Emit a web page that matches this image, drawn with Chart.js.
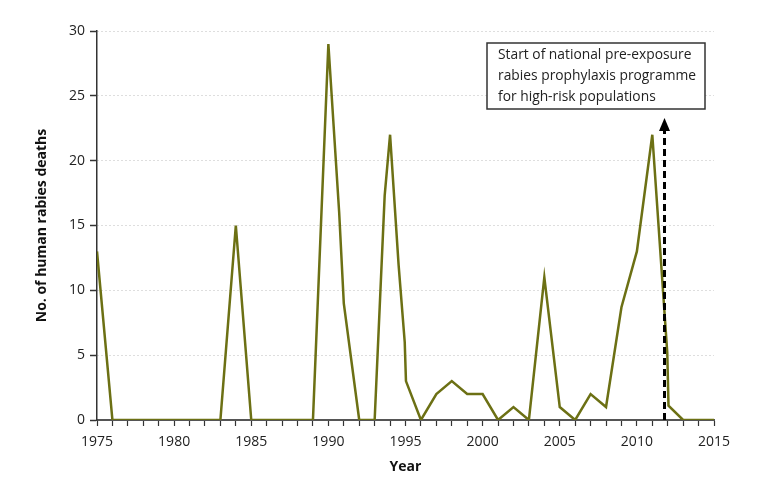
<!DOCTYPE html>
<html>
<head>
<meta charset="utf-8">
<script src="https://cdn.jsdelivr.net/npm/chart.js@4.4.0/dist/chart.umd.min.js"></script>
<style>
  html, body { margin: 0; padding: 0; background: #fff; }
  #wrap { width: 771px; height: 499px; position: relative; }
</style>
</head>
<body>
<div id="wrap"><canvas id="chart"></canvas></div>
<script>
// Dados (anos, mortes humanas por raiva)
const years = [1975, 1976, 1977, 1978, 1979, 1980, 1981, 1982, 1983, 1984, 1985, 1986, 1987, 1988, 1989,
  1990, 1990.7, 1991, 1992, 1993, 1993.65, 1994, 1994.55, 1994.95, 1995.03, 1996, 1997, 1998, 1999, 2000,
  2001, 2002, 2003, 2004, 2005, 2006, 2007, 2008, 2009, 2010, 2011, 2011.97, 2012.05, 2013, 2014, 2015];
const deaths = [13, 0, 0, 0, 0, 0, 0, 0, 0, 15, 0, 0, 0, 0, 0,
  29, 16, 9, 0, 0, 17.3, 22, 12, 6, 3, 0, 2, 3, 2, 2,
  0, 1, 0, 11, 1, 0, 2, 1, 8.7, 13, 22, 5.2, 1.1, 0, 0, 0];
const yTicks = [0, 5, 10, 15, 20, 25, 30];
const xLabelYears = [1975, 1980, 1985, 1990, 1995, 2000, 2005, 2010, 2015];
const noteLines = ['Start of national pre-exposure', 'rabies prophylaxis programme', 'for high-risk populations'];
const arrowYear = 2011.75;
const arrowTop = 23.3;

const lineColor = '#6c7014';
const axisColor = '#333333';
const fontFamily = "'Open Sans', sans-serif";
const tickFont = { family: fontFamily, size: 14 };
const titleFont = { family: fontFamily, size: 14, weight: 'bold' };

// Seta tracejada e caixa de texto
const annotationPlugin = {
  id: 'note',
  afterDatasetsDraw(chart) {
    const ctx = chart.ctx;
    const xs = chart.scales.x, ys = chart.scales.y;
    const ax = Math.round(xs.getPixelForValue(arrowYear)) + 0.5;
    const bottom = ys.getPixelForValue(0);
    const tipY = ys.getPixelForValue(arrowTop);
    const headH = 13, headW = 5.5;
    ctx.save();
    ctx.strokeStyle = '#000';
    ctx.lineWidth = 3;
    ctx.setLineDash([7, 4]);
    ctx.beginPath();
    ctx.moveTo(ax, bottom);
    ctx.lineTo(ax, tipY + headH - 1);
    ctx.stroke();
    ctx.setLineDash([]);
    ctx.fillStyle = '#000';
    ctx.beginPath();
    ctx.moveTo(ax, tipY);
    ctx.lineTo(ax - headW, tipY + headH);
    ctx.lineTo(ax + headW, tipY + headH);
    ctx.closePath();
    ctx.fill();

    // caixa
    const bx = chart.chartArea.left + 390, by = chart.chartArea.top + 12;
    const bw = 218, bh = 66;
    ctx.fillStyle = '#fff';
    ctx.fillRect(bx, by, bw, bh);
    ctx.strokeStyle = axisColor;
    ctx.lineWidth = 1.5;
    ctx.strokeRect(bx, by, bw, bh);
    ctx.fillStyle = '#222';
    ctx.font = '15px ' + fontFamily;
    ctx.textBaseline = 'middle';
    // texto estreito como na fonte condensada do original
    const widest = Math.max(...noteLines.map(t => ctx.measureText(t).width));
    const sx = Math.min(1, 198 / widest);
    noteLines.forEach((t, i) => {
      ctx.save();
      ctx.translate(bx + 11, by + 12 + i * 20.7);
      ctx.scale(sx, 1);
      ctx.fillText(t, 0, 0);
      ctx.restore();
    });
    ctx.restore();
  }
};

const ctxChart = document.getElementById('chart').getContext('2d');
new Chart(ctxChart, {
  type: 'line',
  data: {
    datasets: [{
      data: years.map((y, i) => ({ x: y, y: deaths[i] })),
      borderColor: lineColor,
      borderWidth: 2.5,
      pointRadius: 0,
      tension: 0,
      fill: false
    }]
  },
  options: {
    responsive: true,
    maintainAspectRatio: false,
    animation: false,
    layout: { padding: { top: 31, right: 57, left: 0, bottom: 0 } },
    plugins: { legend: { display: false }, tooltip: { enabled: false } },
    scales: {
      x: {
        type: 'linear',
        min: 1975,
        max: 2015,
        afterFit(scale) { scale.height = 79; },
        ticks: {
          stepSize: 1,
          autoSkip: false,
          maxRotation: 0,
          color: '#222',
          font: tickFont,
          padding: 8,
          callback: v => xLabelYears.includes(v) ? String(v) : ''
        },
        grid: { drawOnChartArea: false, drawTicks: true, tickLength: 6, tickColor: axisColor, tickWidth: 1.2 },
        border: { display: true, color: '#555', width: 2 },
        title: { display: true, text: 'Year', color: '#111', font: titleFont, padding: { top: 0, bottom: 24 } }
      },
      y: {
        min: 0,
        max: 30,
        afterFit(scale) { scale.width = 97; },
        afterBuildTicks(scale) { scale.ticks = yTicks.map(v => ({ value: v })); },
        ticks: { color: '#222', font: tickFont, padding: 5 },
        grid: { color: '#bdbdbd', lineWidth: 1, drawTicks: true, tickLength: 7, tickColor: axisColor, tickWidth: 1.5, tickBorderDash: [] },
        border: { display: true, color: axisColor, width: 1.5, dash: [1, 3] },
        title: { display: true, text: 'No. of human rabies deaths', color: '#111', font: titleFont, padding: { top: 34, bottom: 0 } }
      }
    }
  },
  plugins: [annotationPlugin]
});
</script>
</body>
</html>
